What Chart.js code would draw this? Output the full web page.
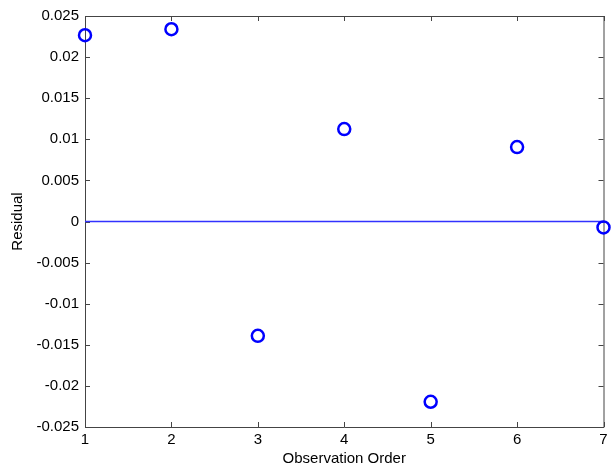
<!DOCTYPE html>
<html>
<head>
<meta charset="utf-8">
<script src="https://cdn.jsdelivr.net/npm/chart.js@4"></script>
<style>
  html, body { margin: 0; padding: 0; background: #fff; }
  #wrap { width: 612px; height: 469px; position: relative; }
</style>
</head>
<body>
<div id="wrap"><canvas id="chart"></canvas></div>
<script>
// residuos
const obsOrder = [1, 2, 3, 4, 5, 6, 7];
const residuals = [0.02266, 0.02339, -0.01391, 0.01124, -0.02193, 0.00905, -0.00072];
const yTicks = [-0.025, -0.02, -0.015, -0.01, -0.005, 0, 0.005, 0.01, 0.015, 0.02, 0.025];
const xTicks = [1, 2, 3, 4, 5, 6, 7];

const axisColor = '#444';
const fontFamily = 'Liberation Sans, Arial, Helvetica, sans-serif';

// marcas de escala para dentro, estilo MATLAB, nos quatro lados
const innerTicks = {
    id: 'innerTicks',
    beforeDatasetsDraw(chart) {
        const { ctx, chartArea: a, scales } = chart;
        const len = 5;
        ctx.save();
        ctx.strokeStyle = axisColor;
        ctx.lineWidth = 1;
        ctx.beginPath();
        ctx.rect(a.left + 0.5, a.top + 0.5, a.right - a.left, a.bottom - a.top);
        xTicks.forEach(v => {
            const px = Math.round(scales.x.getPixelForValue(v)) + 0.5;
            ctx.moveTo(px, a.bottom); ctx.lineTo(px, a.bottom - len);
            ctx.moveTo(px, a.top); ctx.lineTo(px, a.top + len);
        });
        yTicks.forEach(v => {
            const py = Math.round(scales.y.getPixelForValue(v)) + 0.5;
            ctx.moveTo(a.left, py); ctx.lineTo(a.left + len, py);
            ctx.moveTo(a.right, py); ctx.lineTo(a.right - len, py);
        });
        ctx.stroke();
        ctx.restore();
    }
};

new Chart(document.getElementById('chart'), {
    type: 'scatter',
    data: {
        datasets: [
            {
                label: 'Residual',
                data: obsOrder.map((x, i) => ({ x: x, y: residuals[i] })),
                pointStyle: 'circle',
                pointRadius: 6,
                pointBorderWidth: 2.5,
                pointBorderColor: '#0000ff',
                pointBackgroundColor: 'rgba(0,0,0,0)',
                showLine: false,
                clip: false,
                order: 0
            },
            {
                label: 'Zero',
                data: [{ x: xTicks[0], y: 0 }, { x: xTicks[xTicks.length - 1], y: 0 }],
                showLine: true,
                borderColor: 'rgb(50, 50, 255)',
                backgroundColor: 'rgb(50, 50, 255)',
                borderWidth: 1.3,
                pointRadius: 0,
                fill: false,
                order: 1
            }
        ]
    },
    options: {
        responsive: true,
        maintainAspectRatio: false,
        animation: false,
        layout: { padding: { top: 16, right: 3, left: 0, bottom: 0 } },
        plugins: {
            legend: { display: false },
            tooltip: { enabled: false }
        },
        scales: {
            x: {
                type: 'linear',
                min: 1,
                max: 7,
                afterBuildTicks: s => { s.ticks = xTicks.map(v => ({ value: v })); },
                afterFit: s => { s.height = 42; },
                grid: { display: false, drawTicks: false },
                border: { display: false },
                ticks: {
                    color: '#000',
                    font: { family: fontFamily, size: 15 },
                    padding: 4,
                    maxRotation: 0,
                    callback: v => String(v)
                },
                title: {
                    display: true,
                    text: 'Observation Order',
                    color: '#000',
                    font: { family: fontFamily, size: 15 },
                    padding: { top: 2, bottom: 1 }
                }
            },
            y: {
                type: 'linear',
                min: -0.025,
                max: 0.025,
                afterBuildTicks: s => { s.ticks = yTicks.map(v => ({ value: v })); },
                afterFit: s => { s.width = 85; },
                grid: { display: false, drawTicks: false },
                border: { display: false },
                ticks: {
                    color: '#000',
                    font: { family: fontFamily, size: 15 },
                    padding: 6,
                    callback: v => (Math.abs(v) < 1e-12 ? '0' : String(parseFloat(v.toFixed(3))))
                },
                title: {
                    display: true,
                    text: 'Residual',
                    color: '#000',
                    font: { family: fontFamily, size: 15 },
                    padding: { top: 9, bottom: 0 }
                }
            }
        }
    },
    plugins: [innerTicks]
});
</script>
</body>
</html>
